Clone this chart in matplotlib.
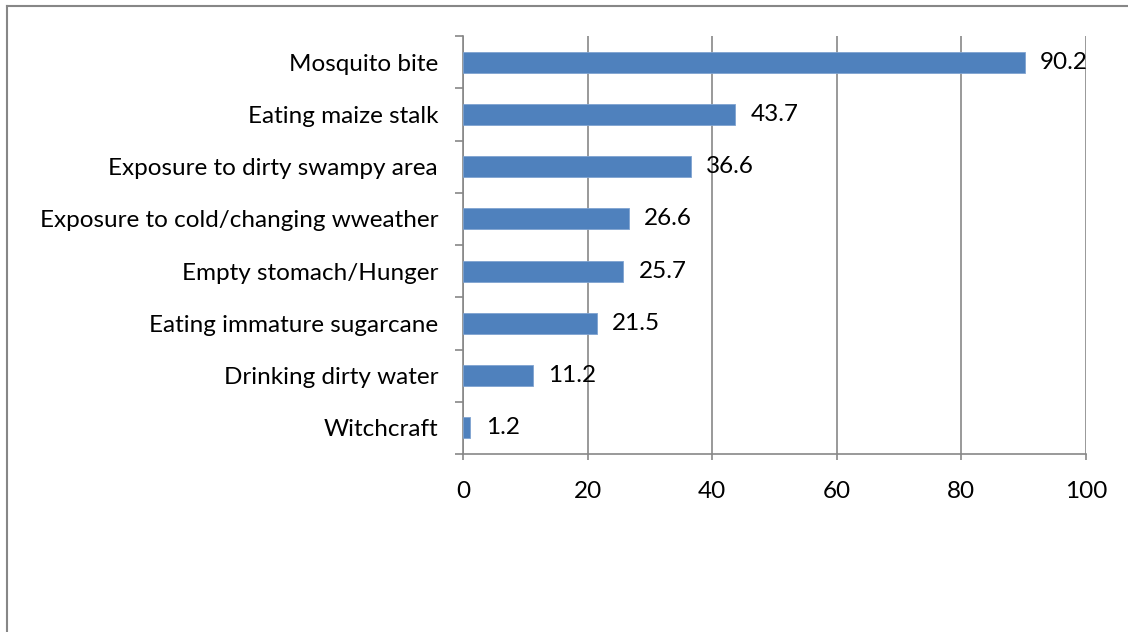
import matplotlib
matplotlib.use("Agg")
import matplotlib.pyplot as plt
from matplotlib.lines import Line2D
from matplotlib.ticker import FixedLocator

categories = ["Mosquito bite", "Eating maize stalk", "Exposure to dirty swampy area",
              "Exposure to cold/changing wweather", "Empty stomach/Hunger",
              "Eating immature sugarcane", "Drinking dirty water", "Witchcraft"]
values = [90.2, 43.7, 36.6, 26.6, 25.7, 21.5, 11.2, 1.2]
xticks = [0, 20, 40, 60, 80, 100]

plt.rcParams['font.family'] = ['Lato', 'DejaVu Sans']
FS = 17.5
GRAY = '#878787'

fig = plt.figure(figsize=(11.28, 6.32), dpi=100)
ax = fig.add_axes([463/1128, 1-454/632, (1086-463)/1128, (454-36)/632])

n = len(categories)
ypos = list(range(n))[::-1]
ax.barh(ypos, values, height=0.4, color='#4F81BD', edgecolor='#7FA3D0', linewidth=0.6, zorder=3)
for y, v in zip(ypos, values):
    ax.annotate(f"{v:.1f}", (v, y), xytext=(11, 0), textcoords='offset points',
                va='center', ha='left', fontsize=FS, color='black', zorder=4)

ax.set_xlim(0, 100)
ax.set_ylim(-0.5, n-0.5)
ax.set_xticks(xticks)
ax.set_xticklabels([str(t) for t in xticks], fontsize=FS)
ax.set_yticks(ypos)
ax.set_yticklabels(categories, fontsize=FS)
ax.yaxis.set_minor_locator(FixedLocator([i - 0.5 for i in range(n + 1)]))
ax.tick_params(axis='y', which='major', length=0, pad=18)
ax.tick_params(axis='y', which='minor', length=6, width=1.2, color=GRAY, direction='out')
ax.tick_params(axis='x', which='major', length=4.5, width=1.2, color=GRAY, direction='out', pad=15)

for s in ['top', 'right']:
    ax.spines[s].set_visible(False)
for s in ['left', 'bottom']:
    ax.spines[s].set_color(GRAY)
    ax.spines[s].set_linewidth(1.2)
ax.grid(axis='x', color=GRAY, linewidth=1.2, zorder=0)
ax.set_axisbelow(True)

# outer chart border (left and top visible)
fig.add_artist(Line2D([6.5/1128, 6.5/1128], [0, 1-6/632], transform=fig.transFigure, color=GRAY, linewidth=1.5))
fig.add_artist(Line2D([6.5/1128, 1], [1-6/632, 1-6/632], transform=fig.transFigure, color=GRAY, linewidth=1.5))

fig.savefig("out.png", dpi=100)
